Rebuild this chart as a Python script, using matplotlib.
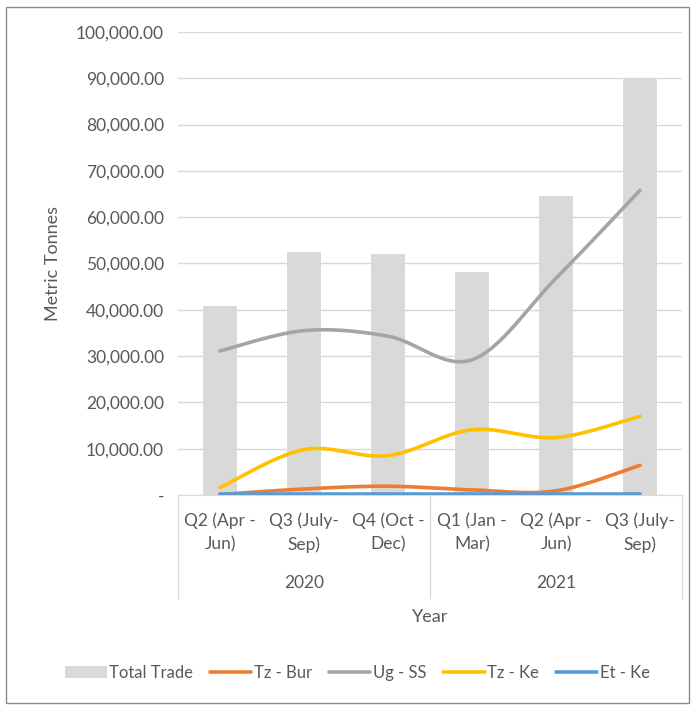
import numpy as np
import matplotlib.pyplot as plt
from matplotlib.patches import Rectangle

quarters = ["Q2 (Apr -\nJun)", "Q3 (July-\nSep)", "Q4 (Oct -\nDec)",
            "Q1 (Jan -\nMar)", "Q2 (Apr -\nJun)", "Q3 (July-\nSep)"]
years = ["2020", "2021"]
year_span = [3, 3]

total_trade = [40800, 52400, 52000, 48200, 64600, 90000]
tz_bur = [100, 1300, 1900, 1100, 900, 6400]
ug_ss = [31100, 35500, 34300, 29200, 46800, 65800]
tz_ke = [1600, 9800, 8500, 14100, 12400, 17000]
et_ke = [200, 200, 200, 200, 200, 200]

TEXT = "#595959"
GRID = "#d9d9d9"
FS = 12.5
plt.rcParams["font.family"] = ["Lato", "DejaVu Sans"]


def smooth(y, n=30):
    """Excel-style smoothed line: cubic Bezier segments through each point."""
    y = np.asarray(y, float)
    x = np.arange(len(y), dtype=float)
    pts = np.column_stack([x, y])
    out = []
    for i in range(len(pts) - 1):
        p0 = pts[max(i - 1, 0)]
        p1 = pts[i]
        p2 = pts[i + 1]
        p3 = pts[min(i + 2, len(pts) - 1)]
        c1 = p1 + (p2 - p0) / 6
        c2 = p2 - (p3 - p1) / 6
        t = np.linspace(0, 1, n)[:, None]
        seg = ((1 - t) ** 3) * p1 + 3 * ((1 - t) ** 2) * t * c1 \
            + 3 * (1 - t) * t ** 2 * c2 + t ** 3 * p2
        out.append(seg if i == 0 else seg[1:])
    seg = np.vstack(out)
    return seg[:, 0], seg[:, 1]


fig = plt.figure(figsize=(6.94, 7.06), dpi=100)
fig.patches.append(Rectangle((0.008, 0.004), 0.985, 0.986, transform=fig.transFigure,
                             fill=False, edgecolor="#8c8c8c", lw=1.0))
ax = fig.add_axes([0.2565, 0.2989, 0.7262, 0.6558])

x = np.arange(len(quarters))
bars = ax.bar(x, total_trade, width=0.4, color="#d9d9d9", label="Total Trade", zorder=2)
handles = [bars]
series = [(tz_bur, "#ed7d31", "Tz - Bur"), (ug_ss, "#a5a5a5", "Ug - SS"),
          (tz_ke, "#ffc000", "Tz - Ke"), (et_ke, "#5b9bd5", "Et - Ke")]
for vals, col, name in series:
    sx, sy = smooth(vals)
    ln, = ax.plot(sx, sy, color=col, lw=2.6, solid_capstyle="round", label=name, zorder=3)
    handles.append(ln)

ax.set_xlim(-0.5, len(quarters) - 0.5)
ax.set_ylim(0, 100000)
yt = np.arange(0, 100001, 10000)
ax.set_yticks(yt)
ax.set_yticklabels(["-"] + [f"{v:,.2f}" for v in yt[1:]])
ax.yaxis.grid(True, color=GRID, lw=1)
ax.set_axisbelow(True)
for s in ["top", "right", "left"]:
    ax.spines[s].set_visible(False)
ax.spines["bottom"].set_color(GRID)
ax.tick_params(axis="y", length=0, pad=10, labelsize=FS, labelcolor=TEXT)
ax.set_xticks([])
ax.set_ylabel("Metric Tonnes", color=TEXT, fontsize=13, labelpad=11)

# two-level category axis
trans = ax.get_xaxis_transform()
for i, q in enumerate(quarters):
    ax.text(i, -0.037, q, transform=trans, ha="center", va="top",
            fontsize=FS, color=TEXT, linespacing=1.55)
edges = np.concatenate([[0], np.cumsum(year_span)]) - 0.5
for e in edges:
    ax.plot([e, e], [0, -0.222], transform=trans, color=GRID, lw=1, clip_on=False)
for j, yr in enumerate(years):
    ax.text((edges[j] + edges[j + 1]) / 2, -0.19, yr, transform=trans,
            ha="center", va="center", fontsize=FS, color=TEXT)
ax.text(0.5, -0.263, "Year", transform=ax.transAxes, ha="center", va="center",
        fontsize=13, color=TEXT)

fig.legend(handles=handles, loc="center", bbox_to_anchor=(0.515, 0.047), ncol=5,
           frameon=False, fontsize=12, labelcolor=TEXT, handlelength=2.5,
           handletextpad=0.15, columnspacing=1.0)

fig.savefig("out.png", dpi=100)
